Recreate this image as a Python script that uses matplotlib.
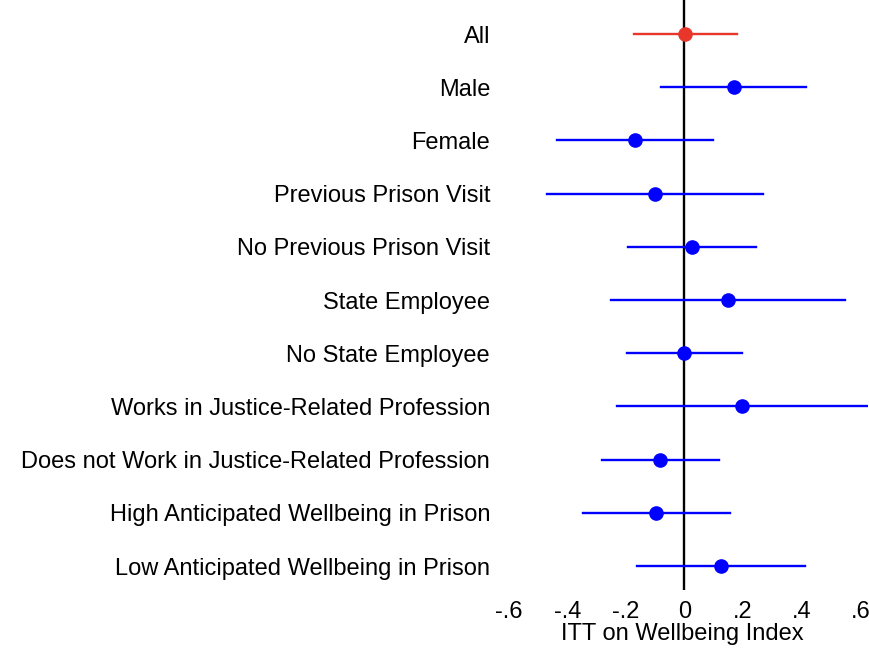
import numpy as np
import matplotlib.pyplot as plt

plt.rcParams['font.family'] = ['Liberation Sans', 'DejaVu Sans']

groups = ['All', 'Male', 'Female', 'Previous Prison Visit', 'No Previous Prison Visit',
          'State Employee', 'No State Employee', 'Works in Justice-Related Profession',
          'Does not Work in Justice-Related Profession', 'High Anticipated Wellbeing in Prison',
          'Low Anticipated Wellbeing in Prison']
est = [0.003, 0.168, -0.170, -0.100, 0.026, 0.148, 0.0, 0.196, -0.083, -0.096, 0.124]
lo = [-0.172, -0.080, -0.435, -0.468, -0.192, -0.251, -0.195, -0.229, -0.283, -0.347, -0.163]
hi = [0.178, 0.415, 0.098, 0.269, 0.243, 0.549, 0.196, 0.622, 0.118, 0.155, 0.411]
xticks = [-0.6, -0.4, -0.2, 0, 0.2, 0.4, 0.6]
xticklabels = ['-.6', '-.4', '-.2', '0', '.2', '.4', '.6']

W, H = 870, 649
fig = plt.figure(figsize=(W / 100, H / 100), dpi=100)
ax = fig.add_axes([497 / W, 1 - 590 / H, (867.6 - 497) / W, 590 / H])

ypos = np.arange(len(groups))
ax.axvline(0, color='black', lw=1.7, zorder=1)
for i in ypos:
    c = '#E8372A' if i == 0 else '#0000FF'
    ax.plot([lo[i], hi[i]], [i, i], color=c, lw=1.7, zorder=2)
    ax.plot(est[i], i, 'o', color=c, ms=9.5, zorder=3)

ax.set_xlim(-0.64, 0.625)
ax.set_ylim(10.45, -0.64)
ax.set_yticks(ypos)
ax.set_yticklabels(groups, fontsize=17)
ax.set_xticks(xticks)
ax.set_xticklabels(xticklabels, fontsize=17)
ax.tick_params(axis='y', length=0, pad=5)
ax.tick_params(axis='x', length=0, pad=8)
ax.set_xlabel('ITT on Wellbeing Index', fontsize=17, labelpad=0)
for s in ax.spines.values():
    s.set_visible(False)

fig.savefig('out.png', dpi=100)
